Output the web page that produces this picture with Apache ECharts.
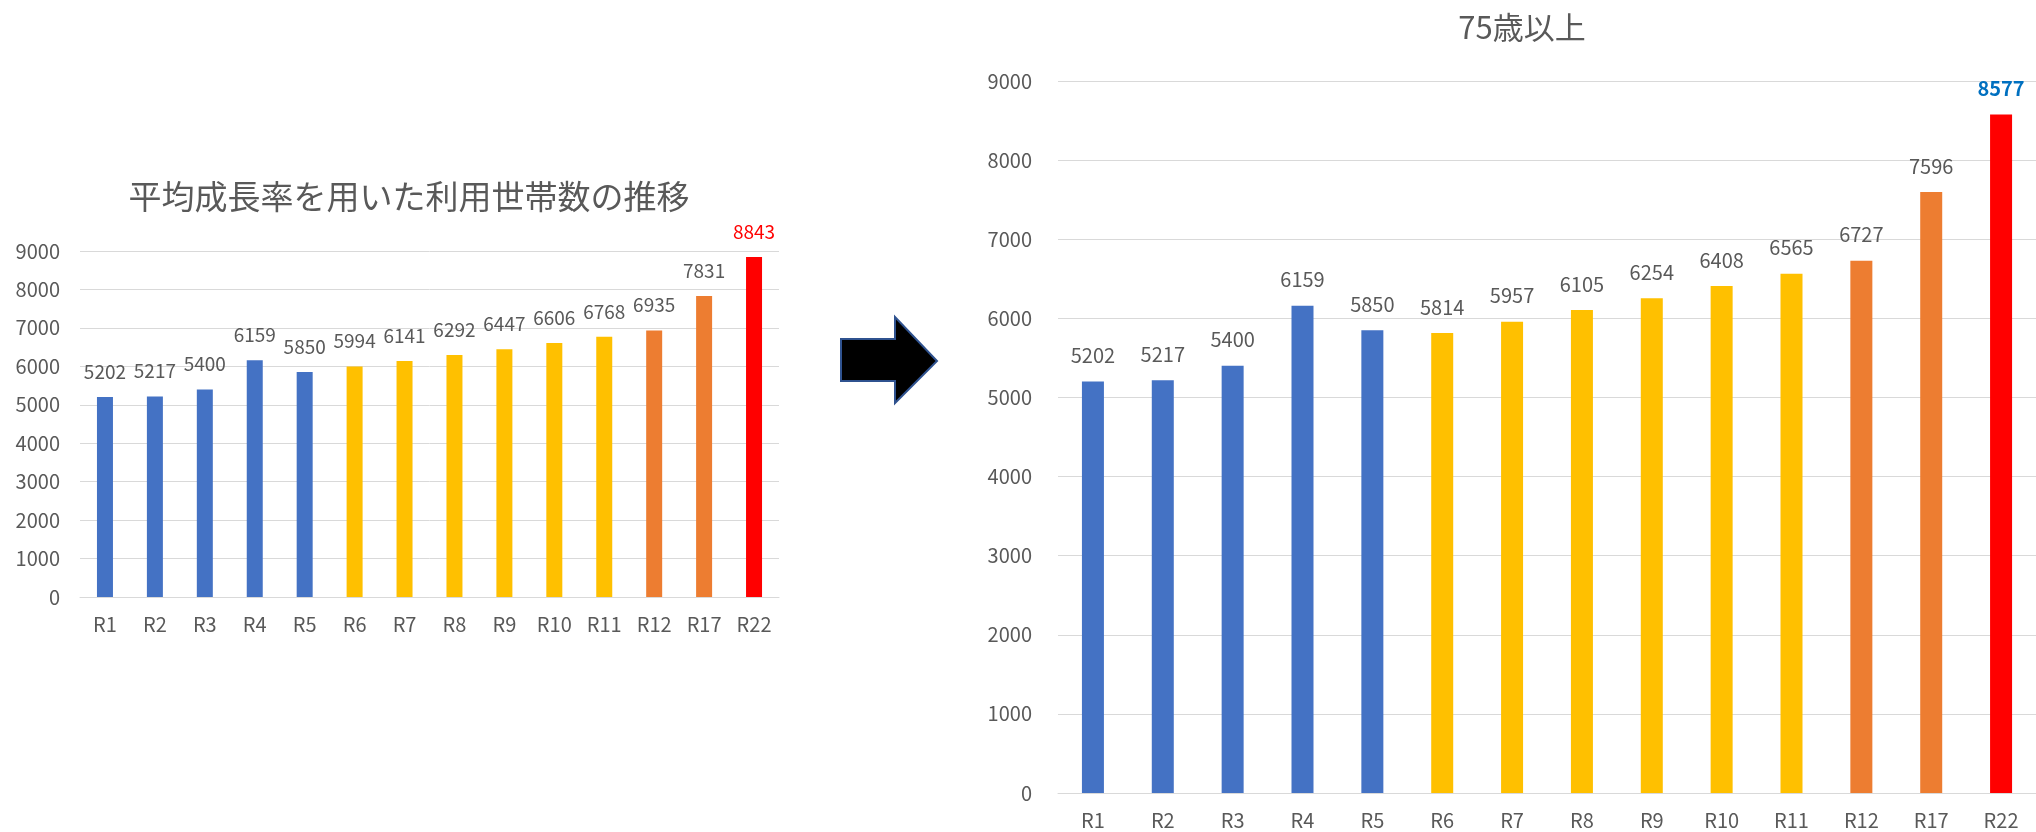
<!DOCTYPE html>
<html>
<head>
<meta charset="utf-8">
<script src="https://cdn.jsdelivr.net/npm/echarts@6/dist/echarts.min.js"></script>
<style>
html,body{margin:0;padding:0;background:#fff;}
#chart{width:2036px;height:832px;}
</style>
</head>
<body>
<div id="chart"></div>
<script>
// ---- data ----
const categories = ['R1','R2','R3','R4','R5','R6','R7','R8','R9','R10','R11','R12','R17','R22'];
const leftValues = [5202,5217,5400,6159,5850,5994,6141,6292,6447,6606,6768,6935,7831,8843];
const rightValues = [5202,5217,5400,6159,5850,5814,5957,6105,6254,6408,6565,6727,7596,8577];
// period group of each category (drives colour)
const groups = ['past','past','past','past','past','near','near','near','near','near','near','mid','mid','far'];
const leftTitle = '平均成長率を用いた利用世帯数の推移';
const rightTitle = '75歳以上';
const yTicks = {min: 0, max: 9000, interval: 1000};

// ---- styles ----
const groupColor = {past:'#4472C4', near:'#FFC000', mid:'#ED7D31', far:'#FF0000'};
const FONT = '"Noto Sans CJK JP", "Noto Sans", sans-serif';
const TXT = '#595959';
const GRID = '#D9D9D9';

function barData(values, lastLabel){
  return values.map((v,i)=>{
    const d = {value: v, itemStyle:{color: groupColor[groups[i]]}};
    if(i === values.length-1) d.label = lastLabel;
    return d;
  });
}

function xAx(gi, fs){
  return {
    type:'category', gridIndex: gi, data: categories,
    axisTick:{show:false},
    axisLine:{lineStyle:{color:GRID, width:1}},
    axisLabel:{color:TXT, fontSize:fs, fontFamily:FONT, margin:17}
  };
}
function yAx(gi, fs, margin){
  return {
    type:'value', gridIndex: gi, min: yTicks.min, max: yTicks.max, interval: yTicks.interval,
    axisLine:{show:false}, axisTick:{show:false},
    splitLine:{lineStyle:{color:GRID, width:1}},
    axisLabel:{color:TXT, fontSize:fs, fontFamily:FONT, margin: margin,
               formatter: v => String(v)}
  };
}

const chart = echarts.init(document.getElementById('chart'), null, {renderer:'canvas'});
chart.setOption({
  backgroundColor:'#ffffff',
  animation:false,
  title:[
    {text:leftTitle, left:404, top:175, textAlign:'center',
     textStyle:{color:TXT, fontSize:33, fontWeight:'normal', fontFamily:FONT}},
    {text:rightTitle, left:1517, top:7, textAlign:'center',
     textStyle:{color:TXT, fontSize:31, fontWeight:'normal', fontFamily:FONT}}
  ],
  grid:[
    {left:80, top:251, width:699, height:346, containLabel:false},
    {left:1058, top:81, width:982, height:712, containLabel:false}
  ],
  xAxis:[xAx(0,20), xAx(1,20)],
  yAxis:[yAx(0,20,20), yAx(1,20,26)],
  series:[
    {type:'bar', xAxisIndex:0, yAxisIndex:0, barWidth:16,
     label:{show:true, position:'top', distance:16, color:TXT, fontSize:19, fontFamily:FONT},
     data: barData(leftValues, {color:'#FF0000'})},
    {type:'bar', xAxisIndex:1, yAxisIndex:1, barWidth:22,
     label:{show:true, position:'top', distance:16, color:TXT, fontSize:20, fontFamily:FONT},
     data: barData(rightValues, {color:'#0070C0', fontWeight:'bold'})}
  ],
  graphic:[
    {type:'polygon',
     shape:{points:[[841,339],[895,339],[895,317],[937,361],[895,403],[895,381],[841,381]]},
     style:{fill:'#000000', stroke:'#2F528F', lineWidth:2}}
  ]
});
</script>
</body>
</html>
